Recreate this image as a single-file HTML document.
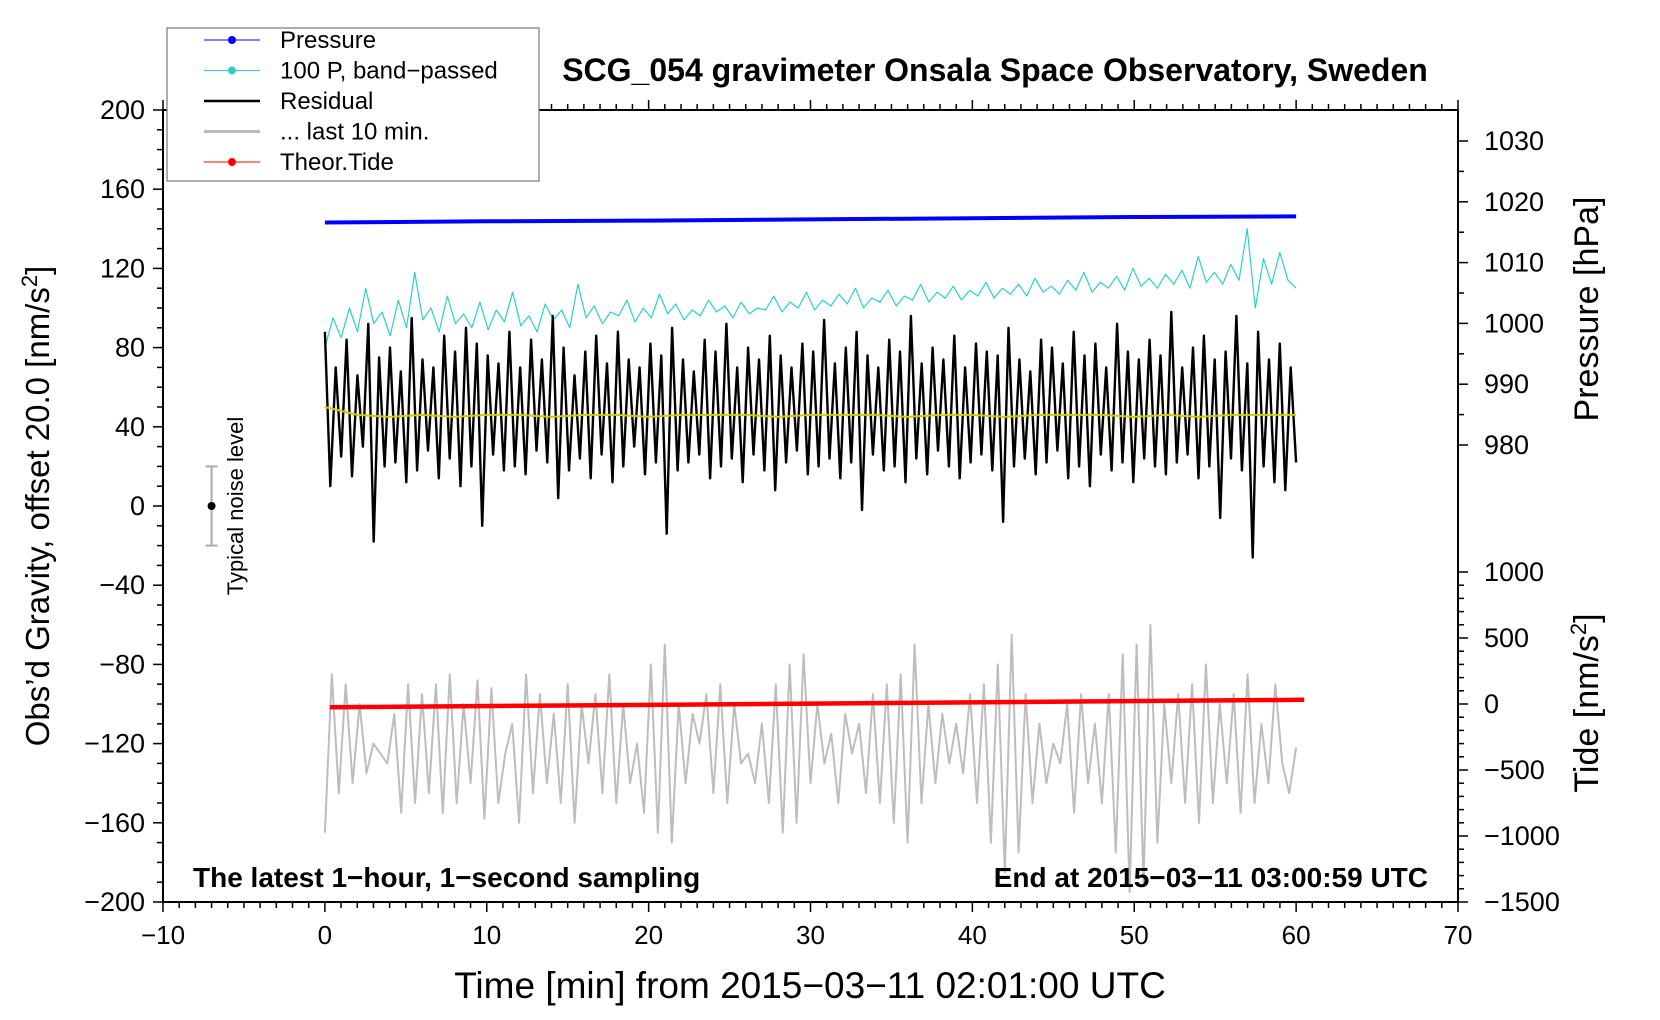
<!DOCTYPE html>
<html><head><meta charset="utf-8"><style>
body{margin:0;background:#fff}
svg{display:block;font-family:"Liberation Sans",Arial,sans-serif}
</style></head><body>
<svg id="chart" width="1660" height="1020" viewBox="0 0 1660 1020">
<g id="marks"></g>
<g id="axes"></g>
</svg>
<script>
// ---- data ----
const pressureT = [0, 10, 20, 30, 40, 50, 60];
const pressureV = [1016.6, 1016.8, 1016.9, 1017.1, 1017.3, 1017.5, 1017.6];
const cyanV = [80,95,85,100,88,110,92,98,86,104,90,118,94,100,88,106,92,97,90,103,89,99,93,108,91,96,88,102,94,99,90,112,95,101,92,98,96,104,93,100,95,107,97,102,94,99,96,104,98,101,95,103,97,100,99,106,98,103,100,108,99,104,101,107,102,110,100,105,103,109,101,106,104,112,103,108,105,111,104,109,106,113,105,110,107,112,106,115,108,111,107,114,109,118,108,113,110,116,109,120,111,115,110,117,112,119,110,126,113,118,112,122,114,140,100,125,112,128,114,110];
const residualV = [88,10,70,25,84,15,66,30,92,-18,75,20,80,22,68,12,95,18,74,28,70,14,86,24,78,10,90,20,82,-10,76,26,72,18,88,20,70,16,84,28,74,22,96,4,80,18,66,24,78,14,86,26,72,12,88,20,74,30,70,16,82,22,76,-14,90,18,74,22,68,26,84,14,78,20,92,24,70,12,80,26,74,18,86,8,76,22,70,28,82,16,78,20,94,24,72,14,80,22,88,-2,76,26,70,18,84,20,78,12,96,24,72,16,80,28,74,20,86,14,70,22,82,26,78,18,76,-8,90,20,74,24,68,16,84,22,80,28,72,14,88,20,76,10,82,26,70,18,92,22,78,12,74,24,84,20,76,16,98,22,70,26,80,14,86,20,74,-6,78,24,96,18,72,-26,88,20,74,12,82,8,70,22];
const yellowV = [50,46,45,46,45,46,46,45,46,46,45,46,46,46,45,46,46,46,45,46,46,45,46,46,46,45,46,45,46,46,46];
const grayV = [-165,-85,-145,-90,-140,-100,-135,-120,-125,-130,-105,-155,-90,-150,-95,-145,-90,-155,-85,-150,-100,-140,-88,-158,-92,-150,-125,-110,-160,-85,-145,-95,-140,-105,-150,-90,-160,-100,-130,-95,-145,-85,-150,-100,-140,-120,-155,-80,-165,-70,-170,-100,-140,-105,-120,-95,-145,-90,-150,-100,-130,-125,-140,-110,-150,-90,-165,-80,-160,-75,-140,-100,-130,-115,-150,-105,-125,-110,-145,-95,-150,-90,-160,-85,-170,-70,-150,-100,-140,-105,-130,-110,-135,-95,-150,-90,-170,-80,-185,-65,-175,-95,-150,-110,-140,-120,-130,-100,-155,-95,-140,-110,-150,-95,-175,-75,-195,-70,-190,-60,-170,-100,-140,-95,-150,-90,-160,-80,-150,-100,-140,-95,-155,-85,-150,-110,-140,-90,-130,-145,-122];
const tideT = [0.3, 60.5];
const tideV = [-25, 32];
const xTicks = [-10,0,10,20,30,40,50,60,70];
const yTicks = [200,160,120,80,40,0,-40,-80,-120,-160,-200];
const pTicks = [1030,1020,1010,1000,990,980];
const tTicks = [1000,500,0,-500,-1000,-1500];

// ---- scales ----
const L=163,R=1458,T=110,B=902;
const xs=v=>L+(v+10)*(R-L)/80;
const ys=v=>T+(200-v)*(B-T)/400;
const ps=v=>141+(1030-v)*6.08;
const ts=v=>B-(v+1500)*(B-572)/2500;
const NS="http://www.w3.org/2000/svg";
const marks=document.getElementById('marks'), axes=document.getElementById('axes');
function mk(tag,attrs,parent){const e=document.createElementNS(NS,tag);for(const k in attrs)e.setAttribute(k,attrs[k]);parent.appendChild(e);return e;}
function line(pts,stroke,w,name){
  const e=mk('polyline',{points:pts.map(p=>p[0].toFixed(1)+','+p[1].toFixed(1)).join(' '),fill:'none',stroke:stroke,'stroke-width':w,'stroke-linejoin':'round'},marks);
  
  
}
const tOf=(i,n)=>i*60/(n-1);
line(grayV.map((v,i)=>[xs(tOf(i,grayV.length)),ys(v)]),'#bdbdbd',2,'last-10-min-line');
line(cyanV.map((v,i)=>[xs(tOf(i,cyanV.length)),ys(v)]),'#2ccfcf',1.2,'band-passed-pressure-line');
line(residualV.map((v,i)=>[xs(tOf(i,residualV.length)),ys(v)]),'#000',2.4,'residual-line');
line(yellowV.map((v,i)=>[xs(tOf(i,yellowV.length)),ys(v)]),'#cccc00',2,'residual-smoothed-line');
line(pressureT.map((t,i)=>[xs(t),ps(pressureV[i])]),'#0000ff',4,'pressure-line');
line(tideT.map((t,i)=>[xs(t),ts(tideV[i])]),'#ff0000',4.5,'theoretical-tide-line');

// frame
const f=mk('rect',{x:L,y:T,width:R-L,height:B-T,fill:'none',stroke:'#000','stroke-width':2},axes);

function txt(s,x,y,size,anchor,name,extra){const e=mk('text',Object.assign({x:x,y:y,'font-size':size,'text-anchor':anchor},extra||{}),axes);e.textContent=s;return e;}
const tk=(x1,y1,x2,y2)=>mk('line',{x1,y1,x2,y2,stroke:'#000','stroke-width':1.5},axes);
for(let v=-10;v<=70;v++){const x=xs(v),big=v%10===0;tk(x,B,x,B+(big?10:6));tk(x,T,x,T-(big?10:6));}
xTicks.forEach(v=>txt(String(v).replace('-','−'),xs(v),944,26,'middle','x-tick-label'));
for(let v=-200;v<=200;v+=10){const y=ys(v);tk(L,y,L-(v%40===0?10:6),y);}
yTicks.forEach(v=>txt(String(v).replace('-','−'),L-18,ys(v)+9,27,'end','y-tick-label'));
for(let v=980;v<=1030;v+=5){const y=ps(v);tk(R,y,R+(v%10===0?10:6),y);}
pTicks.forEach(v=>txt(String(v),R+26,ps(v)+9,27,'start','pressure-tick-label'));
for(let v=-1500;v<=1000;v+=100){const y=ts(v);tk(R,y,R+(v%500===0?10:6),y);}
tTicks.forEach(v=>txt(String(v).replace('-','−'),R+26,ts(v)+9,27,'start','tide-tick-label'));
// titles
txt('SCG_054 gravimeter Onsala Space Observatory, Sweden',995,81,32,'middle','chart-title',{'font-weight':'bold'});
txt('Time [min] from 2015−03−11 02:01:00 UTC',810,998,37,'middle','x-axis-title');
const yt=txt('',49,506,33,'middle','y-axis-title',{transform:'rotate(-90 49 506)'});
yt.innerHTML='Obs’d Gravity, offset 20.0 [nm/s<tspan dy="-12" font-size="22">2</tspan><tspan dy="12">]</tspan>';
txt('Pressure [hPa]',1598,309,34,'middle','pressure-axis-title',{transform:'rotate(-90 1598 309)'});
const tt=txt('',1598,703,34,'middle','tide-axis-title',{transform:'rotate(-90 1598 703)'});
tt.innerHTML='Tide [nm/s<tspan dy="-12" font-size="22">2</tspan><tspan dy="12">]</tspan>';
txt('The latest 1−hour, 1−second sampling',193,887,28,'start','sampling-note',{'font-weight':'bold'});
txt('End at 2015−03−11 03:00:59 UTC',1428,887,28,'end','end-time-note',{'font-weight':'bold'});
// noise level
mk('line',{x1:xs(-7),y1:ys(20),x2:xs(-7),y2:ys(-20),stroke:'#aaa','stroke-width':2},axes);
mk('line',{x1:xs(-7)-6,y1:ys(20),x2:xs(-7)+6,y2:ys(20),stroke:'#aaa','stroke-width':2},axes);
mk('line',{x1:xs(-7)-6,y1:ys(-20),x2:xs(-7)+6,y2:ys(-20),stroke:'#aaa','stroke-width':2},axes);
mk('circle',{cx:xs(-7),cy:ys(0),r:4,fill:'#000'},axes);
txt('Typical noise level',243,506,22,'middle','noise-level-label',{transform:'rotate(-90 243 506)'});
// legend
const lg=mk('rect',{x:167,y:28,width:372,height:153,fill:'#fff',stroke:'#777','stroke-width':1.2},axes);

const leg=[['Pressure','#0000ff',1,true],['100 P, band−passed','#2ccfcf',1,true],['Residual','#000',2.5,false],['... last 10 min.','#bbb',3,false],['Theor.Tide','#ff0000',1,true]];
leg.forEach((l,i)=>{const y=40+i*30.5;
  mk('line',{x1:204,y1:y,x2:260,y2:y,stroke:l[1],'stroke-width':l[2]},axes);
  if(l[3])mk('circle',{cx:232,cy:y,r:4,fill:l[1]},axes);
  txt(l[0],280,y+8,24,'start','legend-entry');});
</script>
</body></html>
